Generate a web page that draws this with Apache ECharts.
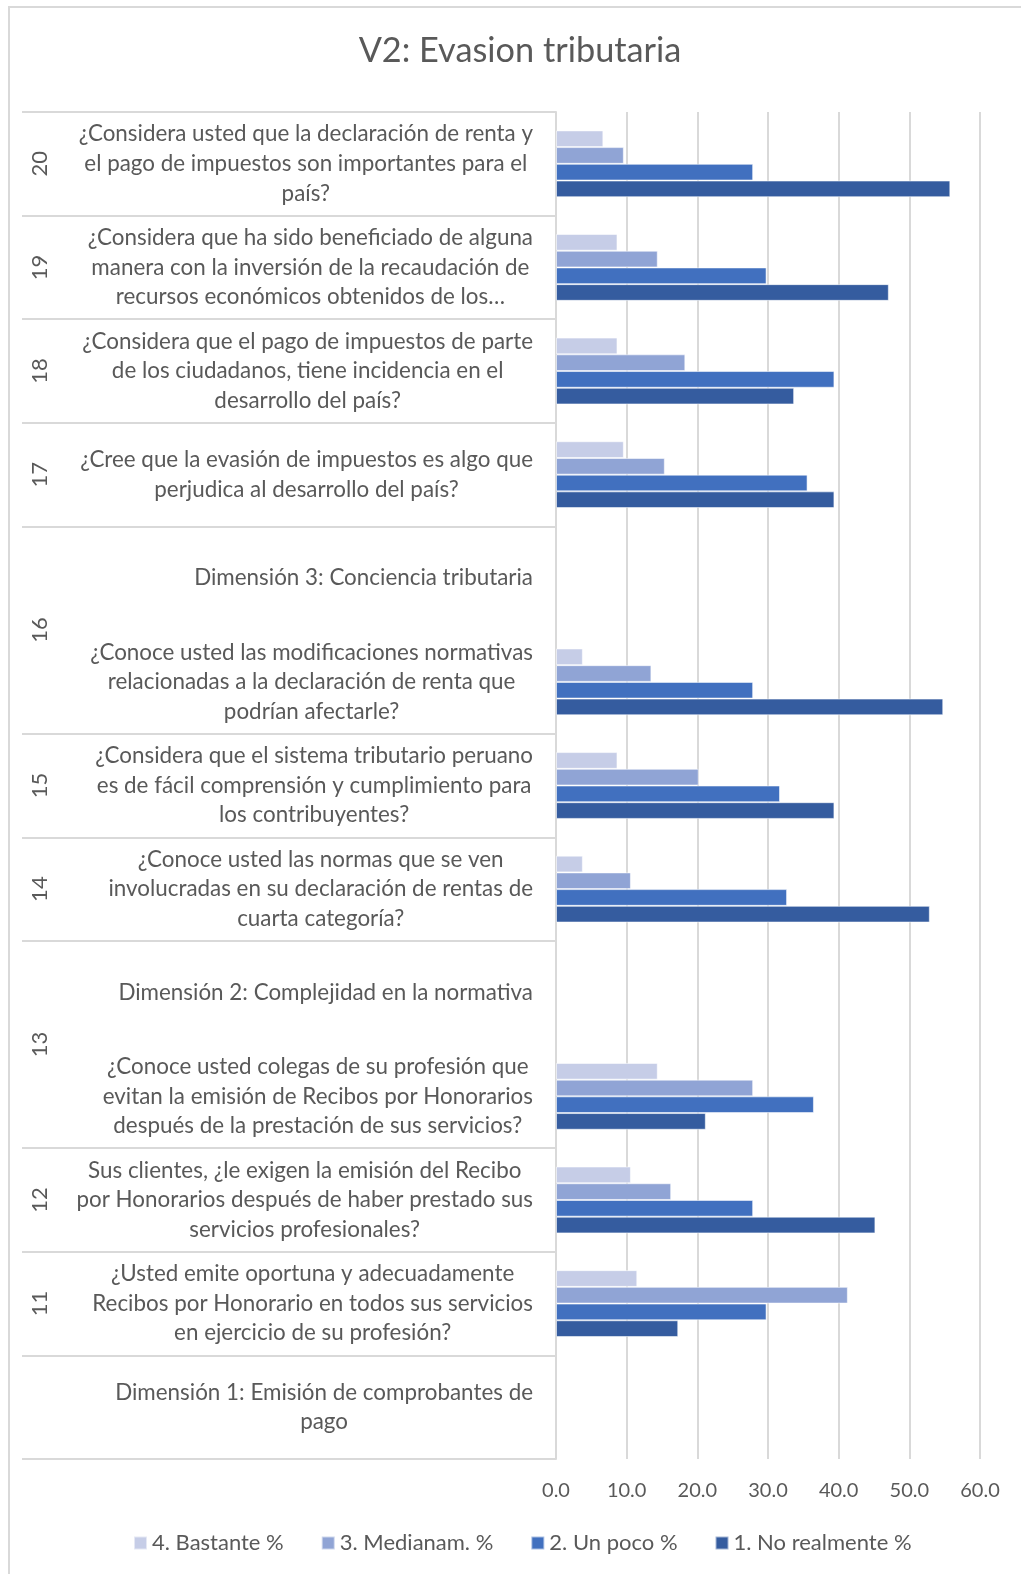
<!DOCTYPE html>
<html><head><meta charset="utf-8">
<script src="https://cdn.jsdelivr.net/npm/echarts@6/dist/echarts.min.js"></script>
<style>
html,body{margin:0;padding:0;background:#fff;overflow:hidden;}
#frame{position:absolute;left:8px;top:6px;width:1200px;height:1800px;border:2px solid #d9d9d9;box-sizing:border-box;}
#chart{position:absolute;left:0;top:0;width:1021px;height:1574px;}
</style></head><body>
<div id="frame"></div><div id="chart"></div>
<script>
const titleText = 'V2: Evasion tributaria';
const categories = [
  '¿Considera usted que la declaración de renta y\nel pago de impuestos son importantes para el\npaís?',
  '¿Considera que ha sido beneficiado de alguna\nmanera con la inversión de la recaudación de\nrecursos económicos obtenidos de los…',
  '¿Considera que el pago de impuestos de parte\nde los ciudadanos, tiene incidencia en el\ndesarrollo del país?',
  '¿Cree que la evasión de impuestos es algo que\nperjudica al desarrollo del país?',
  'Dimensión 3: Conciencia tributaria',
  '¿Conoce usted las modificaciones normativas\nrelacionadas a la declaración de renta que\npodrían afectarle?',
  '¿Considera que el sistema tributario peruano\nes de fácil comprensión y cumplimiento para\nlos contribuyentes?',
  '¿Conoce usted las normas que se ven\ninvolucradas en su declaración de rentas de\ncuarta categoría?',
  'Dimensión 2: Complejidad en la normativa',
  '¿Conoce usted colegas de su profesión que\nevitan la emisión de Recibos por Honorarios\ndespués de la prestación de sus servicios?',
  'Sus clientes, ¿le exigen la emisión del Recibo\npor Honorarios después de haber prestado sus\nservicios profesionales?',
  '¿Usted emite oportuna y adecuadamente\nRecibos por Honorario en todos sus servicios\nen ejercicio de su profesión?',
  'Dimensión 1: Emisión de comprobantes de\npago'
];
const groupLabels = ['20','19','18','17','16','15','14','13','12','11',''];
const groupSpans  = [1,1,1,1,2,1,1,2,1,1,1];
const seriesNames = ['4. Bastante %','3. Medianam. %','2. Un poco %','1. No realmente %'];
const bastante    = [6.7, 8.7, 8.7, 9.6, null, 3.8, 8.7, 3.8, null, 14.4, 10.6, 11.5, null];
const medianam    = [9.6, 14.4, 18.3, 15.4, null, 13.5, 20.2, 10.6, null, 27.9, 16.3, 41.3, null];
const unPoco      = [27.9, 29.8, 39.4, 35.6, null, 27.9, 31.7, 32.7, null, 36.5, 27.9, 29.8, null];
const noRealmente = [55.8, 47.1, 33.7, 39.4, null, 54.8, 39.4, 52.9, null, 21.2, 45.2, 17.3, null];
const xTicks = [0, 10, 20, 30, 40, 50, 60];
const colors = ['#c6cde7', '#90a4d5', '#4170bf', '#355c9f'];

// positions of the outer-level group labels (centre of each group's span)
const groupPos = {};
let acc = 0;
groupSpans.forEach((s, i) => { groupPos[(acc + s / 2).toFixed(1)] = groupLabels[i]; acc += s; });
// boundaries inside a group (no separator there)
const innerBoundaries = [];
acc = 0;
groupSpans.forEach(s => { for (let k = 1; k < s; k++) innerBoundaries.push(acc + k); acc += s; });

const FONT = 'Lato';
const GREY = '#595959';
const chart = echarts.init(document.getElementById('chart'));
const allSeries = [bastante, medianam, unPoco, noRealmente].map((d, i) => ({
  name: seriesNames[i], type: 'bar', data: d, yAxisIndex: 0,
  barGap: '0%', barCategoryGap: '35.5%',
  itemStyle: { color: colors[i], borderColor: 'rgba(255,255,255,0.55)', borderWidth: 1 },
  emphasis: { disabled: true }, animation: false
}));
chart.setOption({
  animation: false,
  title: { text: titleText, left: 515, top: 29, textAlign: 'center',
    textStyle: { fontFamily: FONT, fontSize: 34.3, fontWeight: 'normal', color: GREY } },
  legend: { data: seriesNames, left: 128, top: 1527, itemWidth: 13, itemHeight: 13, itemGap: 37,
    icon: 'rect', textStyle: { fontFamily: FONT, fontSize: 22, color: GREY, padding: [0, 0, 0, 0] } },
  grid: { left: 556, top: 112, width: 424, height: 1347, containLabel: false },
  xAxis: { type: 'value', min: xTicks[0], max: xTicks[xTicks.length - 1], interval: 10,
    axisLine: { show: false }, axisTick: { show: false },
    splitLine: { lineStyle: { color: '#d9d9d9', width: 2 } },
    axisLabel: { margin: 22, fontFamily: FONT, fontSize: 20, color: GREY, formatter: v => v.toFixed(1) } },
  yAxis: [
    { type: 'category', data: categories, inverse: true,
      axisLine: { lineStyle: { color: '#d9d9d9', width: 2 } },
      axisTick: { show: true, length: 534, lineStyle: { color: '#d9d9d9', width: 2 },
        interval: (idx) => innerBoundaries.indexOf(idx) < 0 },
      axisLabel: { interval: 0, margin: 23, align: 'right',
        formatter: v => v.split('\n').map(l => '{c|' + l + '}').join('\n'),
        rich: { c: { fontFamily: FONT, fontSize: 22.4, color: GREY, lineHeight: 29.6, align: 'center' } } },
      splitLine: { show: false } },
    { type: 'value', inverse: true, min: 0, max: categories.length, interval: 0.5,
      position: 'left', offset: 505,
      axisLine: { show: false }, axisTick: { show: false }, splitLine: { show: false },
      axisLabel: { rotate: 90, margin: 0, fontFamily: FONT, fontSize: 22, color: GREY,
        formatter: v => groupPos[v.toFixed(1)] || '' } }
  ],
  series: allSeries
});
</script></body></html>
